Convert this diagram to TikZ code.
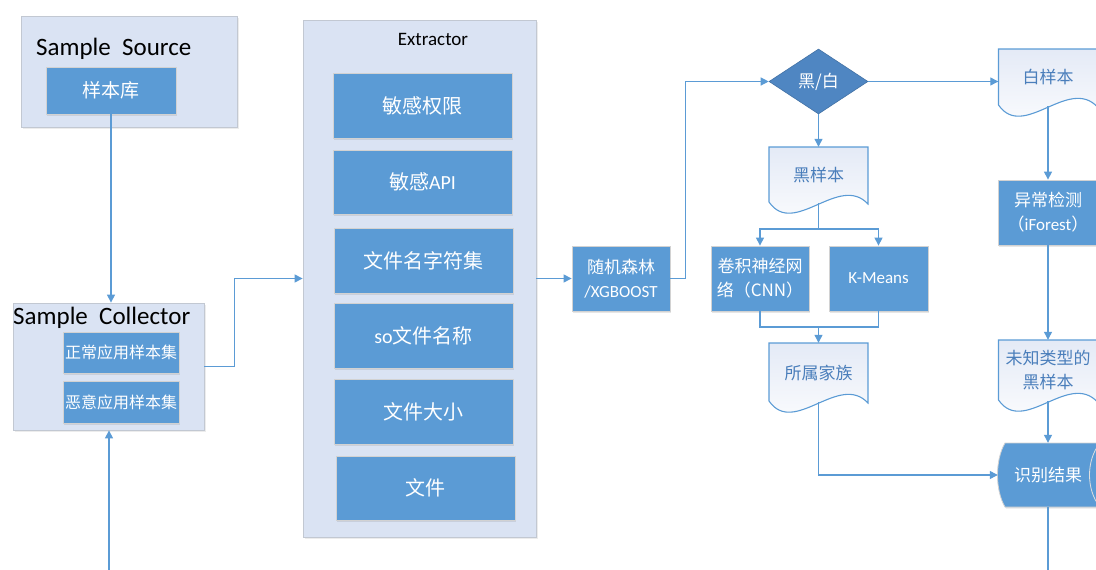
\documentclass[tikz,border=0pt]{standalone}
\usepackage{fontspec}
\setmainfont{Carlito}
\newfontfamily\cjk{Noto Sans CJK SC}
\usetikzlibrary{arrows.meta,shapes.geometric,shadows,calc}
\definecolor{boxblue}{HTML}{5B9BD5}
\definecolor{diablue}{HTML}{4F86C2}
\definecolor{contfill}{HTML}{DAE3F3}
\definecolor{contline}{HTML}{C2C8D2}
\definecolor{linec}{HTML}{5B9BD5}
\definecolor{doctxt}{HTML}{4A7EBB}
\definecolor{docfill}{HTML}{E4EAF6}
\tikzset{
  cont/.style={draw=contline, fill=contfill, line width=0.8pt, inner sep=0pt,
    drop shadow={shadow xshift=1.5pt, shadow yshift=-1.5pt, opacity=0.15}},
  bbox/.style={draw=gray!35, fill=boxblue, line width=0.8pt, text=white, align=center, inner sep=0pt,
    drop shadow={shadow xshift=1pt, shadow yshift=-1.5pt, opacity=0.2}},
  ddoc/.style={draw=linec, line width=1.1pt, top color=docfill, bottom color=white},
  doctext/.style={text=doctxt, align=center, inner sep=0pt, minimum width=99pt,
    font=\cjk\fontsize{17}{24}\selectfont},
  conn/.style={draw=linec, line width=1.2pt},
  arr/.style={conn, -{Triangle[length=8pt,width=8pt]}},
}
% name, cx, top, sidebottom, text
\newcommand\docshape[5]{%
  \path[ddoc] ({#2-49.5},#3) -- ({#2+49.5},#3) -- ({#2+49.5},{#4+1})
     .. controls ({#2+20.5},{#4-30}) and ({#2-24.5},{#4+35}) .. ({#2-49.5},{#4-1}) -- cycle;
  \node[doctext, minimum height={#4-#3}] (#1) at (#2,{(#3+#4)/2}) {#5};
}
\begin{document}
\begin{tikzpicture}[x=1pt,y=-1pt]
\useasboundingbox (0,0) rectangle (1096,570);
\clip (0,0) rectangle (1096,570);

% Sample Source
\node[cont, minimum width=216pt, minimum height=111pt] (src) at (129,71.5) {};
\node[anchor=base west, inner sep=0pt, font=\fontsize{25}{29}\selectfont] (srct) at (36,55) {Sample~~Source};
\node[bbox, minimum width=130pt, minimum height=47pt, font=\cjk\fontsize{19}{22}\selectfont] (lib) at (111,90.5) {样本库};

% Sample Collector
\node[cont, minimum width=191pt, minimum height=127pt] (coll) at (108.5,366.5) {};
\node[anchor=base west, inner sep=0pt, font=\fontsize{25}{29}\selectfont] (collt) at (13,324) {Sample~~Collector};
\node[bbox, minimum width=116pt, minimum height=41pt, font=\cjk\fontsize{16}{19}\selectfont] (normal) at (121,352.5) {正常应用样本集};
\node[bbox, minimum width=116pt, minimum height=42pt, font=\cjk\fontsize{16}{19}\selectfont] (mal) at (121,402) {恶意应用样本集};

% Extractor
\node[cont, minimum width=233pt, minimum height=517pt] (ext) at (419.5,278.5) {};
\node[inner sep=0pt, font=\fontsize{19}{22}\selectfont] (extt) at (433,39) {Extractor};
\tikzset{fbox/.style={bbox, minimum width=179pt, minimum height=65pt, font=\cjk\fontsize{20}{24}\selectfont}}
\node[fbox] (f1) at (422.5,105.5) {敏感权限};
\node[fbox, minimum height=64pt] (f2) at (422.5,182) {敏感{\fontspec{Carlito}API}};
\node[fbox] (f3) at (423.5,260.5) {文件名字符集};
\node[fbox] (f4) at (423.5,335.5) {{\fontspec{Carlito}so}文件名称};
\node[fbox] (f5) at (423.5,411.5) {文件大小};
\node[fbox, minimum height=64pt] (f6) at (425.5,488) {文件};

% classifier
\tikzset{sbox/.style={bbox, minimum width=98pt, minimum height=65pt, font=\cjk\fontsize{17}{24}\selectfont}}
\node[sbox] (rf) at (621,278.5) {随机森林\\{\fontspec{Carlito}/XGBOOST}};
\node[diamond, aspect=1.52, fill=diablue, draw=diablue!85!black, line width=0.6pt, minimum width=99pt, minimum height=65pt, inner sep=0pt, text=white, font=\cjk\fontsize{17}{20}\selectfont] (dia) at (818.5,81.5) {黑/白};

% black branch
\docshape{black}{818.5}{147}{203}{黑样本}
\node[sbox] (cnn) at (760,278.5) {卷积神经网\\络（CNN）};
\node[sbox, minimum width=99pt, font=\fontsize{17}{20}\selectfont] (km) at (878.5,278.5) {K-Means};
\docshape{fam}{818.5}{343}{402}{所属家族}

% white branch
\docshape{white}{1048}{49}{106}{白样本}
\node[sbox, minimum width=100pt] (anom) at (1048,212.5) {异常检测\\（{\fontspec{Carlito}iForest}）};
\docshape{unk}{1048}{340}{401}{未知类型的\\黑样本}

% result (direct access storage)
\path[fill=boxblue, draw=gray!35, line width=0.8pt, drop shadow={shadow xshift=1pt, shadow yshift=-1.5pt, opacity=0.2}]
  (1005,443) .. controls (995,460) and (995,490) .. (1005,507) -- (1120,507) -- (1120,443) -- cycle;
\draw[white!75!gray, line width=0.8pt] (1100,443) .. controls (1086,460) and (1086,490) .. (1100,507);
\node[inner sep=0pt, minimum width=100pt, minimum height=64pt, text=white, font=\cjk\fontsize{17}{20}\selectfont] (res) at (1048,475) {识别结果};

% connectors
\coordinate (inbot) at (109,580);
\coordinate (outbot) at (1048,580);
\draw[arr] (lib.south) -- (lib.south |- coll.north);
\draw[arr] (inbot) -- (inbot |- coll.south);
\draw[arr] (coll.east) -- ++(30,0) |- (ext.west);
\draw[arr] (ext.east) -- (rf.west);
\draw[arr] (rf.east) -- ++(15,0) |- (dia.west);
\draw[arr] (dia.south) -- (black.north);
\coordinate (j1) at (818.5,229);
\draw[conn] (black.south) -- (j1);
\draw[arr] (j1) -| (cnn.north);
\draw[arr] (j1) -| (km.north);
\coordinate (j2) at (818.5,327);
\draw[conn] (cnn.south) |- (j2) -| (km.south);
\draw[arr] (j2) -- (fam.north);
\draw[arr] (fam.south) |- (res.west);
\draw[arr] (dia.east) -- (dia.east -| white.west);
\draw[arr] (white.south) -- (anom.north);
\draw[arr] (anom.south) -- (unk.north);
\draw[arr] (unk.south) -- (res.north);
\draw[conn] (res.south) -- (outbot);
\end{tikzpicture}
\end{document}
